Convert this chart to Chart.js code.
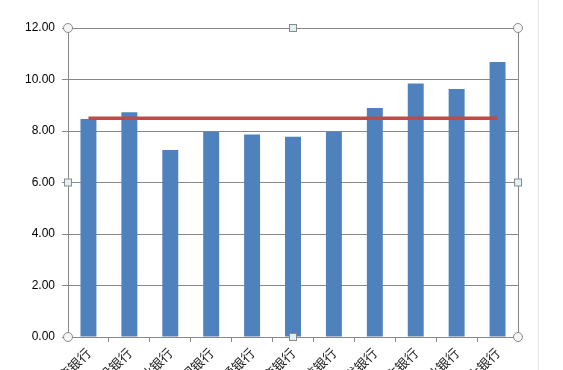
<!DOCTYPE html>
<html>
<head>
<meta charset="utf-8">
<script src="https://cdn.jsdelivr.net/npm/chart.js@4"></script>
<style>
    html, body { margin: 0; padding: 0; background: #fff; overflow: hidden; }
    #wrap { width: 563px; height: 370px; position: relative; }
</style>
</head>
<body>
<div id="wrap"><canvas id="bankChart"></canvas></div>
<script>
// данные графика
const banks = ["工商银行", "建设银行", "农业银行", "中国银行", "交通银行", "招商银行",
    "中信银行", "浦发银行", "民生银行", "兴业银行", "光大银行"];
const barValues = [8.47, 8.73, 7.26, 7.97, 7.86, 7.78, 7.97, 8.89, 9.84, 9.63, 10.68];
const lineValues = [8.5, 8.5, 8.5, 8.5, 8.5, 8.5, 8.5, 8.5, 8.5, 8.5, 8.5];
const yTicks = [0, 2, 4, 6, 8, 10, 12];

// рамка выделения как в Excel
const selectionPlugin = {
    id: "selection",
    afterDraw(chart) {
        const { ctx, chartArea: a } = chart;
        ctx.save();
        ctx.strokeStyle = "#888";
        ctx.lineWidth = 1;
        ctx.beginPath();
        ctx.moveTo(a.right + 0.5, a.top);
        ctx.lineTo(a.right + 0.5, a.bottom);
        ctx.stroke();

        // светлая линия справа
        ctx.strokeStyle = "#e4e4e4";
        ctx.beginPath();
        ctx.moveTo(chart.width - 24.5, 0);
        ctx.lineTo(chart.width - 24.5, chart.height);
        ctx.stroke();

        const midX = (a.left + a.right) / 2;
        const midY = (a.top + a.bottom) / 2;
        const circles = [[a.left, a.top], [a.right, a.top], [a.left, a.bottom], [a.right, a.bottom]];
        const squares = [[midX, a.top], [a.left, midY], [a.right, midY], [midX, a.bottom]];

        ctx.strokeStyle = "#8a8a8a";
        circles.forEach(([x, y]) => {
            ctx.beginPath();
            ctx.arc(x, y, 4.5, 0, Math.PI * 2);
            ctx.fillStyle = "#f4f6f6";
            ctx.fill();
            ctx.stroke();
        });
        squares.forEach(([x, y]) => {
            ctx.fillStyle = "#e2f2f4";
            ctx.fillRect(x - 3.5, y - 3.5, 7, 7);
            ctx.strokeRect(x - 3.5, y - 3.5, 7, 7);
        });
        ctx.restore();
    }
};

const ctx = document.getElementById("bankChart").getContext("2d");
new Chart(ctx, {
    type: "bar",
    data: {
        labels: banks,
        datasets: [
            {
                type: "line",
                data: lineValues,
                borderColor: "#be4b48",
                borderWidth: 3.5,
                pointRadius: 0,
                fill: false,
                order: 0
            },
            {
                data: barValues,
                backgroundColor: "#4f81bd",
                borderWidth: 0,
                barPercentage: 0.39,
                categoryPercentage: 1.0,
                order: 1
            }
        ]
    },
    options: {
        responsive: true,
        maintainAspectRatio: false,
        animation: false,
        devicePixelRatio: 1,
        layout: { padding: { top: 28, right: 45, left: 0, bottom: 0 } },
        plugins: {
            legend: { display: false },
            tooltip: { enabled: false }
        },
        scales: {
            x: {
                offset: true,
                grid: {
                    offset: true,
                    drawOnChartArea: false,
                    drawTicks: true,
                    tickLength: 5,
                    color: "#888"
                },
                border: { display: true, color: "#888" },
                ticks: {
                    autoSkip: false,
                    maxRotation: 45,
                    minRotation: 45,
                    padding: 3,
                    color: "#222",
                    font: { family: "'Noto Sans CJK SC'", size: 13 }
                },
                afterFit(scale) { scale.height = 33; }
            },
            y: {
                min: 0,
                max: 12,
                afterBuildTicks(scale) {
                    scale.ticks = yTicks.map(v => ({ value: v }));
                },
                grid: {
                    color: "#888",
                    lineWidth: 1,
                    tickLength: 6
                },
                border: { display: true, color: "#888" },
                ticks: {
                    padding: 7,
                    color: "#000",
                    font: { family: "'Liberation Sans'", size: 12 },
                    callback: v => Number(v).toFixed(2)
                },
                afterFit(scale) { scale.width = 68; }
            }
        }
    },
    plugins: [selectionPlugin]
});
</script>
</body>
</html>
